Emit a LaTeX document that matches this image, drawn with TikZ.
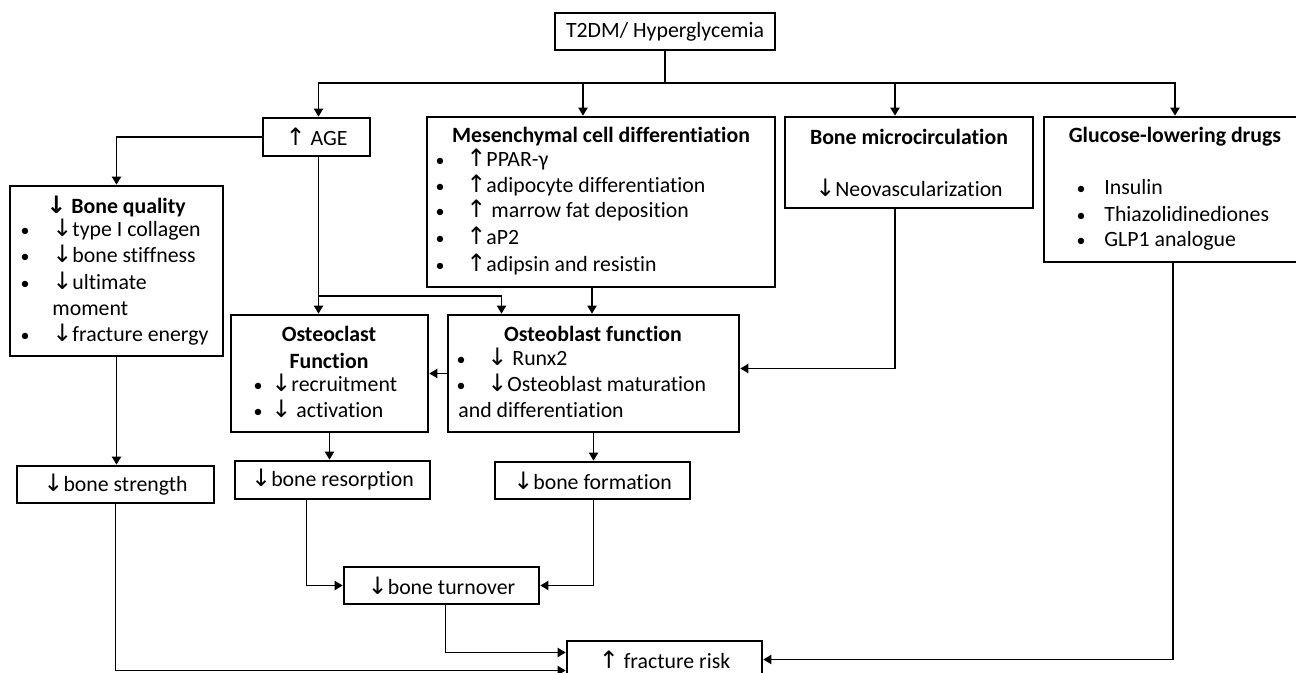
\documentclass[tikz,border=0pt]{standalone}
\usepackage{fontspec}
\setmainfont{Carlito}[Ligatures=NoCommon]
\newfontfamily\arrowfont[Scale=1.1]{DejaVu Sans}
\usetikzlibrary{arrows.meta,positioning}
\newcommand{\arrUp}{{\arrowfont\char"2191}}
\newcommand{\arrDn}{{\arrowfont\char"2193}}

\begin{document}
\begin{tikzpicture}[x=0.5pt,y=-0.5pt,
  font=\fontsize{10.9}{13}\selectfont,
  box/.style={draw, line width=1.3pt, inner sep=0pt},
  sz/.style 2 args={minimum width={#1*0.5pt}, minimum height={#2*0.5pt}},
  link/.style={line width=0.95pt, -{Triangle[length=4pt,width=4.5pt]}},
  wire/.style={line width=0.95pt},
  head/.style={font=\fontsize{10.9}{13}\selectfont\bfseries, inner sep=0pt},
  item/.style={anchor=west, inner sep=0pt, text height=7pt, text depth=2pt},
  dot/.style={anchor=center, inner sep=0pt, font=\fontsize{9}{13}\selectfont}]
\useasboundingbox (0,0) rectangle (1296,673);
\clip (0,0) rectangle (1296,673);

% boxes
\node[box, sz={220}{37}] (t2dm) at (665,31.5) {T2DM/ Hyperglycemia};
\node[box, sz={107}{38}] (age) at (316.5,137) {\arrUp\ AGE};
\node[box, sz={348}{170}] (mesen) at (601,202) {};
\node[box, sz={248}{91}] (micro) at (909,162.5) {};
\node[box, sz={262}{145}] (drugs) at (1175,189.5) {};
\node[box, sz={213}{170}] (quality) at (116.5,271) {};
\node[box, sz={197}{117}] (oclast) at (329.5,373.5) {};
\node[box, sz={291}{117}] (oblast) at (593.5,373.5) {};
\node[box, sz={197}{37}] (strength) at (115.5,484.5) {\arrDn bone strength};
\node[box, sz={195}{38}] (resorp) at (332.5,480) {\arrDn bone resorption};
\node[box, sz={195}{37}] (formation) at (592.5,480.5) {\arrDn bone formation};
\node[box, sz={195}{37}] (turnover) at (441.5,585.5) {\arrDn bone turnover};
\node[box, sz={195}{37}] (risk) at (664.5,659.5) {\arrUp\ fracture risk};

% mesenchymal cell differentiation
\node[head] (mesenT) at (601,137) {Mesenchymal cell differentiation};
\foreach \y/\txt [count=\i] in {162/\arrUp PPAR-γ, 188/\arrUp adipocyte differentiation,
    213/\arrUp\ marrow fat deposition, 240/\arrUp aP2, 267/\arrUp adipsin and resistin} {
  \node[dot] (mesenB\i) at (440,\y) {•};
  \node[item] (mesenL\i) at (466,\y) {\txt};
}

% bone microcirculation
\node[head] (microT) at (909,137) {Bone microcirculation};
\node[inner sep=0pt] (microL) at (909,188) {\arrDn Neovascularization};

% glucose-lowering drugs
\node[head] (drugsT) at (1175,137) {Glucose-lowering drugs};
\foreach \y/\txt [count=\i] in {190/Insulin, 217/Thiazolidinediones, 242/GLP1 analogue} {
  \node[dot] (drugsB\i) at (1081,\y) {•};
  \node[item] (drugsL\i) at (1104,\y) {\txt};
}

% bone quality
\node[head] (qualityT) at (116,206) {\arrDn\ Bone quality};
\foreach \y/\txt [count=\i] in {232/\arrDn type I collagen, 258/\arrDn bone stiffness,
    285/\arrDn ultimate, 337/\arrDn fracture energy} {
  \node[dot] (qualityB\i) at (25,\y) {•};
  \node[item] (qualityL\i) at (52,\y) {\txt};
}
\node[item] (qualityM) at (52,311) {moment};

% osteoclast function
\node[head] (oclastT) at (329,334) {Osteoclast};
\node[head] (oclastF) at (329,361) {Function};
\node[dot] (oclastB1) at (258,387) {•};
\node[item] (oclastL1) at (271,387) {\arrDn recruitment};
\node[dot] (oclastB2) at (258,413) {•};
\node[item] (oclastL2) at (271,413) {\arrDn\ activation};

% osteoblast function
\node[head] (oblastT) at (593,334) {Osteoblast function};
\node[dot] (oblastB1) at (461,361) {•};
\node[item] (oblastL1) at (487,361) {\arrDn\ Runx2};
\node[dot] (oblastB2) at (461,387) {•};
\node[item] (oblastL2) at (487,387) {\arrDn Osteoblast maturation};
\node[item] (oblastL3) at (458,413) {and differentiation};

% connectors
\coordinate (bus) at (665,83);
\coordinate (fork) at (319,296);
\draw[wire] (t2dm.south) -- (bus);
\draw[link] (bus) -| ([xshift=1pt]age.north);
\draw[link] (bus) -| ([xshift=-9pt]mesen.north);
\draw[link] (bus) -| ([xshift=-7pt]micro.north);
\draw[link] (bus) -| (drugs.north);

\draw[link] (age.west) -| (quality.north);
\draw[link] ([xshift=1pt]age.south) -- ([xshift=1pt]age.south |- oclast.north);
\draw[link] (fork) -| ([xshift=-46pt]oblast.north);
\draw[link] ([xshift=-4.5pt]mesen.south) -- ([xshift=-4.5pt]mesen.south |- oblast.north);
\draw[link] (oblast.west) -- (oclast.east);
\draw[link] ([xshift=-7pt]micro.south) |- ([yshift=2.5pt]oblast.east);

\draw[link] (quality.south) -- (quality.south |- strength.north);
\draw[link] (oclast.south) -- (oclast.south |- resorp.north);
\draw[link] (oblast.south) -- (oblast.south |- formation.north);

\draw[link] ([xshift=-13pt]resorp.south) |- (turnover.west);
\draw[link] ([xshift=0.5pt]formation.south) |- (turnover.east);
\draw[link] ([xshift=2pt]turnover.south) |- ([yshift=3.5pt]risk.west);
\draw[link] (strength.south) |- ([yshift=-5.5pt]risk.west);
\draw[link] ([xshift=-1pt]drugs.south) |- (risk.east);
\end{tikzpicture}
\end{document}
